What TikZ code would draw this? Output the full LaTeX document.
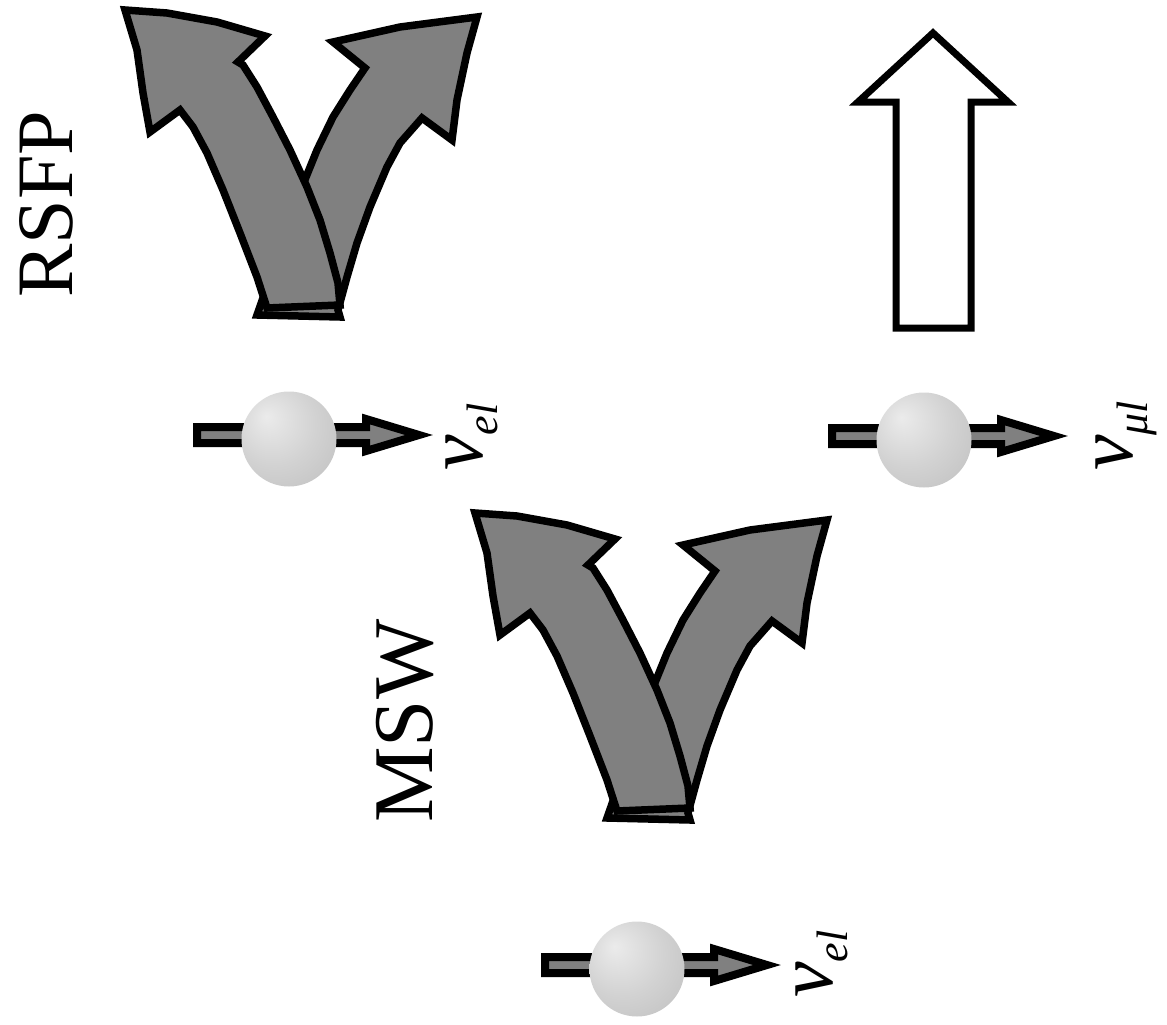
\documentclass[tikz,border=0pt]{standalone}
\usepackage{fontspec}
\setmainfont{Liberation Serif}
\definecolor{armgray}{HTML}{808080}
\definecolor{sphhi}{HTML}{EBEBEB}
\definecolor{sphmid}{HTML}{D2D2D2}
\definecolor{sphlo}{HTML}{ABABAB}
\pgfdeclareradialshading{sphere}{\pgfpoint{-12bp}{12bp}}{color(0bp)=(sphhi); color(22bp)=(sphmid); color(64bp)=(sphlo)}
\newcommand\nutext[1]{{\fontsize{80}{80}\selectfont\itshape ν}\raisebox{-15pt}{\fontsize{44}{44}\selectfont\itshape #1}}
\begin{document}
\begin{tikzpicture}[x=1pt,y=-1pt,
  arm/.style={fill=armgray,draw=black,line width=7.5pt,line join=miter},
  spinarrow/.style={fill=armgray,draw=black,line width=8pt,line join=miter},
  hollow/.style={fill=white,draw=black,line width=7pt,line join=miter},
  ball/.style={circle,minimum size=95pt,inner sep=0pt,shading=sphere},
  lbl/.style={rotate=90,anchor=base west,inner sep=0pt},
  splitarrow/.pic={
    % right branch first, the left one lies over it
    \draw[arm] (257,315) -- (302,187) -- (317,150) -- (333,117) -- (350,90) -- (365,68)
      -- (333,42) -- (400,27) -- (477,17) -- (467,53) -- (457,100) -- (452,140)
      -- (422,118) -- (400,143) -- (387,167) -- (370,207) -- (357,243) -- (347,277)
      -- (338,310) -- (340,317) -- cycle;
    \draw[arm] (125,10) -- (167,13) -- (217,22) -- (265,36) -- (238,62) -- (243,65)
      -- (257,87) -- (273,117) -- (290,150) -- (307,187) -- (320,220) -- (330,253)
      -- (338,283) -- (340,305) -- (267,308) -- (257,277) -- (240,233) -- (223,190)
      -- (207,153) -- (193,127) -- (180,110) -- (150,132) -- (143,93) -- (137,50) -- cycle;
  },
  spin/.pic={
    \draw[spinarrow] (-92,-12) -- (77,-12) -- (77,-20) -- (130,-4) -- (77,12) -- (77,4) -- (-92,4) -- cycle;
    \node[ball] (-ball) at (0,0) {};
  }]
\useasboundingbox (0,0) rectangle (1167,1025);
% upper row: RSFP
\node[lbl,font=\fontsize{80}{80}\selectfont] (rsfp) at (72,298) {RSFP};
\pic (rsfpsplit) at (0,0) {splitarrow};
\draw[hollow] (933,33) -- (1008,102) -- (971,102) -- (971,328) -- (896,328) -- (896,102) -- (858,102) -- cycle;
\pic (nuel) at (289,439) {spin};
\node[lbl] (nuellbl) at (482,471) {\nutext{el}};
\pic (numul) at (924,440) {spin};
\node[lbl] (numullbl) at (1132,471) {\nutext{μl}};
% lower row: MSW
\node[lbl,font=\fontsize{85}{85}\selectfont] (msw) at (432,823) {MSW};
\pic (mswsplit) at (350,503) {splitarrow};
\pic (nuelmsw) at (637,969) {spin};
\node[lbl] (nuelmswlbl) at (832,998) {\nutext{el}};
\end{tikzpicture}
\end{document}
